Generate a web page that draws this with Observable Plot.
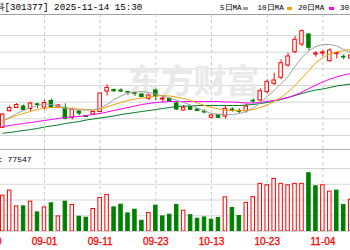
<!DOCTYPE html>
<html><head><meta charset="utf-8">
<script src="https://cdn.jsdelivr.net/npm/d3@7"></script>
<script src="https://cdn.jsdelivr.net/npm/@observablehq/plot@0.6"></script>
<style>
body{margin:0;background:#fff;}
#wrap{position:relative;width:350px;height:250px;overflow:hidden;background:#fff;}
.abs{position:absolute;white-space:nowrap;}
.mono{font-family:"Liberation Mono","DejaVu Sans Mono",monospace;color:#000;}
.dash{position:absolute;height:3px;width:5px;top:7px;}
#pricebox svg,#volbox svg{display:block;background:transparent;}
#volbox{color:#ff0000;}
#volbox g.ticklabels, #volbox g.ticklabels text{fill:#ff0000 !important;}
</style></head><body>
<div id="wrap">
  <div class="abs mono" id="title" style="left:-4.5px;top:2px;font-size:9.2px;line-height:11px;"></div>
  <div id="legend"></div>
  <div class="abs" style="left:0;top:14px;width:350px;height:1px;background:#a0a0a0;"></div>
  <div class="abs" id="pricebox" style="left:0;top:14px;"></div>
  <div class="abs" style="left:0;top:149px;width:350px;height:1px;background:#b0b0b0;"></div>
  <div class="abs" id="volbox" style="left:0;top:150px;"></div>
  <div class="abs mono" id="volhead" style="left:-10px;top:155px;font-size:8px;line-height:10px;"></div>
</div>
<script>
// ---- data ----
const titleText = "科[301377] 2025-11-14 15:30";
const maNames = ["5日MA", "10日MA", "20日MA", "30日MA"];
const volHeader = "量: 77547";
const watermark = "东方财富";

const dates = ["08-20","08-21","08-22","08-25","08-26","08-27","08-28","08-29","09-01","09-02","09-03","09-04","09-05","09-08","09-09","09-10","09-11","09-12","09-15","09-16","09-17","09-18","09-19","09-22","09-23","09-24","09-25","09-26","09-29","09-30","10-09","10-10","10-13","10-14","10-15","10-16","10-17","10-20","10-21","10-22","10-23","10-24","10-27","10-28","10-29","10-30","10-31","11-03","11-04","11-05","11-06","11-07","11-10"];
const tickDates = ["08-20","09-01","09-11","09-23","10-13","10-23","11-04"];
const candleDates = dates.slice(2);

const open  = [42.31,47.29,48.25,48.70,47.95,49.36,48.40,50.35,48.40,48.31,45.31,47.20,45.85,46.30,47.05,53.20,53.65,53.50,53.05,52.75,52.30,51.01,53.50,50.80,51.01,49.60,47.50,48.49,47.80,47.11,45.31,46.21,45.70,47.80,47.41,47.29,50.41,50.50,52.99,55.51,57.31,61.00,64.99,67.30,70.30,64.30,64.60,62.29,64.45,63.61,63.10];
const close = [46.30,48.25,49.15,47.65,49.60,49.15,49.75,48.55,49.00,45.01,47.65,46.60,45.55,47.05,52.60,54.25,53.29,53.20,52.90,52.51,51.55,52.00,51.70,51.10,50.20,47.80,48.31,47.71,47.35,46.90,46.00,45.31,48.01,47.50,47.11,48.70,50.20,53.29,55.99,56.50,61.69,63.70,68.71,71.29,66.31,64.60,64.90,65.50,64.75,63.40,64.00];
const high  = [46.60,48.85,49.60,49.15,49.99,49.60,50.50,50.95,49.30,49.51,48.25,47.41,46.00,47.35,52.75,55.21,53.95,54.01,53.11,52.90,52.45,52.45,53.95,51.70,51.25,50.05,49.00,48.70,47.95,47.71,46.30,46.30,48.70,48.31,48.01,49.51,51.01,54.01,56.71,58.69,62.71,64.69,69.70,71.71,70.51,65.20,65.50,66.01,64.99,64.21,64.30];
const low   = [42.10,47.05,48.10,47.35,47.20,48.10,47.65,48.01,48.10,44.71,44.71,45.85,45.40,46.00,46.90,51.85,52.90,52.90,52.00,51.70,51.40,50.50,50.50,49.99,50.05,47.50,47.29,47.50,47.20,46.51,45.01,45.19,45.01,46.99,46.51,46.69,49.51,49.99,52.51,55.00,56.71,60.49,64.51,66.70,65.29,63.49,63.70,61.99,63.01,62.71,62.50];
const volume = [91100,103900,63800,63800,75800,48500,61200,71500,38300,75800,67400,37500,35000,57200,85200,92900,61200,68100,45900,55400,27300,47000,65600,38300,42600,67400,52800,41300,32400,35700,29900,34200,86800,59700,39300,72700,87300,121000,117400,133700,121000,117400,121000,121000,148000,114800,117400,101300,103900,67400,80900];
const volumeUp = [1,1,1,0,1,0,1,0,1,0,1,0,0,1,1,1,0,0,0,0,0,1,0,0,0,0,1,0,0,0,0,0,1,0,0,1,1,1,1,1,1,1,1,1,0,0,1,1,0,0,1];
const ma5  = [44.2,45.4,46.6,47.5,48.4,49.0,49.45,49.3,48.85,48.25,47.8,47.65,47.65,47.65,48.25,49.3,50.8,51.85,52.75,53.05,53.2,52.9,52.45,51.85,51.25,50.5,49.9,49.15,48.25,47.35,46.6,46.3,46.3,46.3,46.6,47.2,48.25,49.75,51.7,53.5,55.6,57.7,60.7,63.4,65.5,66.7,67.3,67.3,66.85,65.8,64.9];
const ma10 = [44.5,45.25,46.0,46.6,47.2,47.8,48.25,48.4,48.4,48.25,48.1,47.95,47.8,47.65,47.95,48.55,49.3,49.9,50.5,50.95,51.25,51.55,51.85,52.0,51.85,51.55,51.1,50.5,49.75,49.0,48.4,47.95,47.65,47.5,47.5,47.5,47.8,48.4,49.15,50.2,51.4,53.05,55.0,57.25,59.5,61.9,63.4,64.45,65.05,65.5,65.8];
const ma20 = [42.7,43.0,43.3,43.6,43.9,44.2,44.5,44.8,45.1,45.4,45.55,45.7,46.0,46.3,46.6,47.05,47.5,47.95,48.4,48.85,49.3,49.6,49.9,50.05,50.2,50.2,50.2,50.2,50.2,50.2,50.2,50.2,50.05,50.05,49.9,49.75,49.75,49.9,50.2,50.5,50.95,51.4,52.15,53.05,54.1,55.15,56.05,56.95,57.55,58.15,58.6];
const ma30 = [40.69,40.9,41.2,41.5,41.8,42.1,42.55,42.85,43.15,43.6,43.9,44.2,44.65,44.95,45.25,45.55,45.85,46.3,46.6,46.9,47.2,47.5,47.8,48.1,48.4,48.7,48.85,48.85,49.0,49.0,49.0,49.0,49.0,49.0,49.0,49.15,49.3,49.6,49.9,50.35,50.8,51.4,52.0,52.6,53.2,53.65,53.95,54.4,54.85,55.15,55.45];
const priceTicks = [40,45,50,55,60,65,70];
const volTicks = [40000,80000,120000,160000];

// ---- styles ----
const RED = "#ff0000", GREEN = "#008000";
const maColors = ["#a0a0a0", "#f5a300", "#ff00ff", "#0a7a2a"];
const HW = 0.25;

const idx = d => dates.indexOf(d);
const xOpts = {type: "linear", domain: [0, dates.length - 1], range: [-11.72, 350.2]};
const rows = candleDates.map((d, k) => ({
  i: idx(d), open: open[k], close: close[k], high: high[k], low: low[k],
  vol: volume[k], vup: volumeUp[k], ma5: ma5[k], ma10: ma10[k], ma20: ma20[k], ma30: ma30[k]
}));
const up = d => d.close >= d.open;
const tickIdx = tickDates.map(idx);

document.getElementById("title").textContent = titleText;
document.getElementById("volhead").textContent = volHeader;

// legend
const legend = document.getElementById("legend");
const legPos = [220, 257.5, 298, 340];
const dashPos = [243, 286.5, 328.5, 370];
maNames.forEach((n, k) => {
  const t = document.createElement("div");
  t.className = "abs mono";
  t.style.cssText = `left:${legPos[k]}px;top:3px;font-size:7.6px;line-height:10px;`;
  t.textContent = n;
  legend.appendChild(t);
  const dsh = document.createElement("div");
  dsh.className = "dash";
  dsh.style.left = dashPos[k] + "px";
  dsh.style.background = maColors[k];
  legend.appendChild(dsh);
});

const price = Plot.plot({
  width: 350, height: 136, margin: 0,
  x: {...xOpts, axis: null},
  y: {domain: [35.5, 76.3], axis: null},
  color: {type: "identity"},
  style: {background: "transparent", overflow: "visible"},
  marks: [
    Plot.gridY(priceTicks, {stroke: "#d6d6d6", strokeOpacity: 1}),
    Plot.gridX(tickIdx, {stroke: "#c8c8c8", strokeOpacity: 1, strokeDasharray: "3,3"}),
    Plot.text([watermark], {frameAnchor: "top-left", dx: 127, dy: 55, text: d => d, fontSize: 33,
      fontWeight: "bold", fill: "#e9e9e9", textAnchor: "start", lineAnchor: "top",
      fontFamily: "Noto Sans CJK SC", letterSpacing: 0}),
    Plot.ruleX(rows, {x: "i", y1: "low", y2: "high", stroke: d => up(d) ? RED : GREEN, strokeWidth: 1}),
    Plot.rect(rows, {x1: d => d.i - HW, x2: d => d.i + HW, y1: "open", y2: "close",
      fill: d => up(d) ? "#ffffff" : GREEN, stroke: d => up(d) ? RED : GREEN, strokeWidth: 1}),
    Plot.line(rows, {x: "i", y: "ma30", stroke: maColors[3], strokeWidth: 1}),
    Plot.line(rows, {x: "i", y: "ma20", stroke: maColors[2], strokeWidth: 1}),
    Plot.line(rows, {x: "i", y: "ma10", stroke: maColors[1], strokeWidth: 1}),
    Plot.line(rows, {x: "i", y: "ma5", stroke: maColors[0], strokeWidth: 1})
  ]
});
document.getElementById("pricebox").appendChild(price);

const vol = Plot.plot({
  width: 350, height: 100, marginTop: 0, marginLeft: 0, marginRight: 0, marginBottom: 19,
  x: {...xOpts, axis: null},
  y: {domain: [0, 160000 * 81 / 63], axis: null},
  color: {type: "identity"},
  style: {background: "transparent", overflow: "visible", color: "#ff0000"},
  marks: [
    Plot.gridY(volTicks, {stroke: "#d6d6d6", strokeOpacity: 1}),
    Plot.gridX(tickIdx, {stroke: "#c8c8c8", strokeOpacity: 1, strokeDasharray: "3,3"}),
    Plot.rect(rows, {x1: d => d.i - HW, x2: d => d.i + HW, y1: 0, y2: "vol",
      fill: d => d.vup ? "#ffffff" : GREEN, stroke: d => d.vup ? RED : GREEN, strokeWidth: 1}),
    Plot.ruleY([0], {stroke: "#d6d6d6"}),
    Plot.text(tickIdx, {x: d => d, text: i => dates[i], frameAnchor: "bottom", lineAnchor: "top",
      dy: 6, fill: RED, stroke: RED, strokeWidth: 0.3, fontSize: 10, fontFamily: "Liberation Sans",
      className: "ticklabels"})
  ]
});
document.getElementById("volbox").appendChild(vol);
</script>
</body></html>
